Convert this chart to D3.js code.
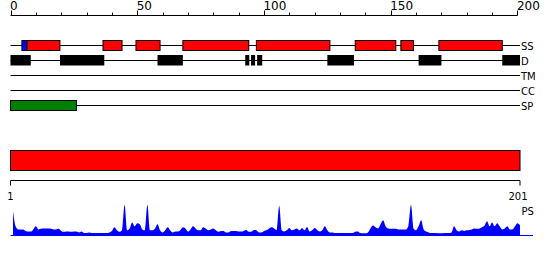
<!DOCTYPE html>
<html>
<head>
<meta charset="utf-8">
<script src="https://cdn.jsdelivr.net/npm/d3@7/dist/d3.min.js"></script>
<style>
  body { margin: 0; background: #fff; }
  svg { display: block; font-family: "DejaVu Sans", sans-serif; }
</style>
</head>
<body>
<svg width="550" height="260"></svg>
<script>
var seqLength = 201;
var topTicks = [0, 50, 100, 150, 200];
var trackNames = ["SS", "D", "TM", "CC", "SP"];

// secondary structure: [start, end, kind]
var ssSegments = [
  [4.5, 6.5, "strand"],
  [6.5, 19.5, "helix"],
  [36.5, 44, "helix"],
  [49.5, 59, "helix"],
  [68, 94, "helix"],
  [97, 126, "helix"],
  [136, 152, "helix"],
  [154, 159, "helix"],
  [169, 194, "helix"]
];
var disorderSegments = [
  [0, 8], [19.5, 37], [58, 68], [92.6, 94.2], [94.9, 96.5], [97.3, 99.3],
  [125, 135.5], [161, 170], [194, 201]
];
var tmSegments = [];
var ccSegments = [];
var spSegments = [[0, 26]];
var domainSegments = [[0, 201]];

// PS profile, one value per residue (1..201)
var psValues = [
  0.80, 0.30, 0.20, 0.20, 0.20, 0.15, 0.13, 0.13, 0.20, 0.30,
  0.20, 0.22, 0.23, 0.23, 0.23, 0.22, 0.20, 0.20, 0.22, 0.15,
  0.12, 0.13, 0.13, 0.12, 0.13, 0.13, 0.10, 0.13, 0.08, 0.08,
  0.10, 0.08, 0.08, 0.08, 0.08, 0.08, 0.08, 0.08, 0.10, 0.15,
  0.27, 0.17, 0.12, 0.17, 1.00, 0.17, 0.23, 0.43, 0.30, 0.40,
  0.37, 0.20, 0.17, 1.00, 0.17, 0.17, 0.23, 0.37, 0.17, 0.10,
  0.17, 0.27, 0.17, 0.10, 0.13, 0.13, 0.17, 0.27, 0.23, 0.13,
  0.20, 0.30, 0.23, 0.17, 0.17, 0.27, 0.23, 0.17, 0.20, 0.23,
  0.17, 0.12, 0.15, 0.15, 0.10, 0.10, 0.15, 0.15, 0.15, 0.13,
  0.13, 0.15, 0.18, 0.12, 0.12, 0.18, 0.17, 0.10, 0.10, 0.15,
  0.17, 0.23, 0.27, 0.23, 0.17, 0.97, 0.17, 0.13, 0.17, 0.25,
  0.17, 0.20, 0.23, 0.17, 0.25, 0.17, 0.28, 0.13, 0.17, 0.25,
  0.18, 0.13, 0.17, 0.30, 0.17, 0.10, 0.10, 0.08, 0.08, 0.08,
  0.08, 0.08, 0.08, 0.08, 0.08, 0.12, 0.13, 0.08, 0.07, 0.07,
  0.10, 0.23, 0.33, 0.27, 0.23, 0.37, 0.50, 0.30, 0.23, 0.22,
  0.22, 0.22, 0.20, 0.20, 0.20, 0.20, 0.33, 1.00, 0.23, 0.17,
  0.30, 0.50, 0.20, 0.13, 0.10, 0.08, 0.08, 0.08, 0.07, 0.07,
  0.08, 0.08, 0.08, 0.10, 0.30, 0.17, 0.13, 0.17, 0.15, 0.17,
  0.18, 0.20, 0.23, 0.22, 0.23, 0.27, 0.33, 0.47, 0.30, 0.43,
  0.30, 0.40, 0.30, 0.20, 0.23, 0.30, 0.20, 0.20, 0.30, 0.40,
  0.33
];

var svg = d3.select("svg");
var x = d3.scaleLinear().domain([0, seqLength]).range([10.5, 520]);
var trackY = d3.scalePoint().domain(trackNames).range([45.5, 105.5]);
var lineEnd = x(seqLength);

// top ruler
var topAxis = svg.append("g");
topAxis.append("line")
  .attr("x1", x(0)).attr("x2", x(200))
  .attr("y1", 15.5).attr("y2", 15.5)
  .attr("stroke", "#000");
topAxis.selectAll(".minor")
  .data(d3.range(0, 201, 10))
  .enter().append("line")
  .attr("x1", function (d) { return Math.round(x(d)) + 0.5; })
  .attr("x2", function (d) { return Math.round(x(d)) + 0.5; })
  .attr("y1", function (d) { return topTicks.indexOf(d) >= 0 ? 10.5 : 12.5; })
  .attr("y2", 15.5)
  .attr("stroke", "#000");
topAxis.selectAll("text")
  .data(topTicks)
  .enter().append("text")
  .attr("x", function (d) { return x(d) - 0.5; })
  .attr("y", 10)
  .attr("font-size", 12)
  .attr("fill", "#000")
  .text(function (d) { return d; });

// tracks
var tracks = [
  { name: "SS", segs: ssSegments },
  { name: "D", segs: disorderSegments },
  { name: "TM", segs: tmSegments },
  { name: "CC", segs: ccSegments },
  { name: "SP", segs: spSegments }
];

tracks.forEach(function (t) {
  var y = trackY(t.name);
  svg.append("line")
    .attr("x1", x(0)).attr("x2", lineEnd)
    .attr("y1", y).attr("y2", y)
    .attr("stroke", "#000");
  svg.append("text")
    .attr("x", lineEnd + 1)
    .attr("y", y + 4)
    .attr("font-size", 10)
    .attr("fill", "#000")
    .text(t.name);
});

svg.selectAll(".ss")
  .data(ssSegments)
  .enter().append("rect")
  .attr("x", function (d) { return x(d[0]); })
  .attr("y", trackY("SS") - 5)
  .attr("width", function (d) { return x(d[1]) - x(d[0]); })
  .attr("height", 10)
  .attr("fill", function (d) { return d[2] == "strand" ? "#0000ff" : "#ff0000"; })
  .attr("stroke", "#000");

svg.selectAll(".dis")
  .data(disorderSegments)
  .enter().append("rect")
  .attr("x", function (d) { return x(d[0]); })
  .attr("y", trackY("D") - 5.5)
  .attr("width", function (d) { return x(d[1]) - x(d[0]); })
  .attr("height", 10.5)
  .attr("fill", "#000");

svg.selectAll(".sp")
  .data(spSegments)
  .enter().append("rect")
  .attr("x", function (d) { return x(d[0]); })
  .attr("y", trackY("SP") - 5)
  .attr("width", function (d) { return x(d[1]) - x(d[0]); })
  .attr("height", 10)
  .attr("fill", "#008000")
  .attr("stroke", "#000");

// domain bar
svg.selectAll(".dom")
  .data(domainSegments)
  .enter().append("rect")
  .attr("x", function (d) { return x(d[0]); })
  .attr("y", 150.5)
  .attr("width", function (d) { return x(d[1]) - x(d[0]); })
  .attr("height", 20)
  .attr("fill", "#ff0000")
  .attr("stroke", "#000");

// bottom ruler
var bot = svg.append("g");
bot.append("path")
  .attr("d", "M" + x(0) + ",185.5V180.5H" + x(seqLength) + "V185.5")
  .attr("fill", "none")
  .attr("stroke", "#000");
bot.append("text")
  .attr("x", x(0)).attr("y", 200)
  .attr("text-anchor", "middle")
  .attr("font-size", 10)
  .text("1");
bot.append("text")
  .attr("x", x(seqLength) - 2).attr("y", 200)
  .attr("text-anchor", "middle")
  .attr("font-size", 10)
  .text(seqLength);
bot.append("text")
  .attr("x", 521.5).attr("y", 214.5)
  .attr("font-size", 10)
  .text("PS");

// PS profile
var yPs = d3.scaleLinear().domain([0, 1]).range([235.5, 205]);
var area = d3.area()
  .x(function (d, i) { return x(i + 1); })
  .y0(yPs(0))
  .y1(function (d) { return yPs(d); })
  .curve(d3.curveMonotoneX);

svg.append("path")
  .datum(psValues)
  .attr("d", area)
  .attr("fill", "#0000ff");
svg.append("line")
  .attr("x1", x(0)).attr("x2", 533)
  .attr("y1", 235.5).attr("y2", 235.5)
  .attr("stroke", "#0000ff");
</script>
</body>
</html>
